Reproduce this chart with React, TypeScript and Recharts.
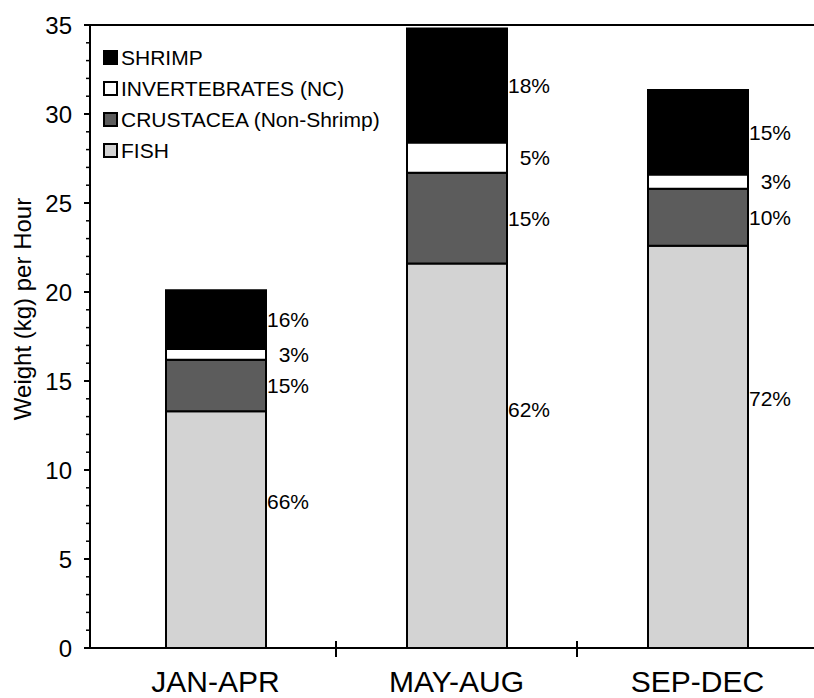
import React from "react";
import {
  BarChart,
  Bar,
  XAxis,
  YAxis,
  LabelList,
  ReferenceLine,
} from "recharts";

const periods = ["JAN-APR", "MAY-AUG", "SEP-DEC"];

// weight (kg) per hour
const fish = [13.3, 21.6, 22.6];
const crustacea = [2.9, 5.1, 3.2];
const invertebrates = [0.6, 1.7, 0.8];
const shrimp = [3.3, 6.4, 4.75];

// percentage labels printed beside each segment
const fishPct = ["66%", "62%", "72%"];
const crustaceaPct = ["15%", "15%", "10%"];
const invertebratesPct = ["3%", "5%", "3%"];
const shrimpPct = ["16%", "18%", "15%"];

// every unit gets a tick, every fifth one a label
const yTicks = Array.from({ length: 36 }, (_, i) => i);

const data = periods.map((p, i) => ({
  period: p,
  fish: fish[i],
  crustacea: crustacea[i],
  invertebrates: invertebrates[i],
  shrimp: shrimp[i],
  fishPct: fishPct[i],
  crustaceaPct: crustaceaPct[i],
  invertebratesPct: invertebratesPct[i],
  shrimpPct: shrimpPct[i],
}));

const series = [
  { key: "fish", name: "FISH", fill: "#d3d3d3" },
  { key: "crustacea", name: "CRUSTACEA (Non-Shrimp)", fill: "#5c5c5c" },
  { key: "invertebrates", name: "INVERTEBRATES (NC)", fill: "#ffffff" },
  { key: "shrimp", name: "SHRIMP", fill: "#000000" },
];

const FONT = "'Liberation Sans', Arial, Helvetica, sans-serif";

// label to the right of a segment; fish labels sit a bit above the middle
const makePctLabel = (rise: number) => (props: any) => {
  const { x, y, width, height, value } = props;
  const cy = Number(y) + Number(height) * (1 - rise);
  return (
    <text
      x={Number(x) + Number(width) + 43}
      y={cy}
      textAnchor="end"
      dominantBaseline="central"
      fontFamily={FONT}
      fontSize={21}
      fill="#000"
    >
      {value}
    </text>
  );
};

const SepTick = (props: any) => {
  const { x, y } = props;
  return <line x1={x} x2={x} y1={y - 7} y2={y + 9} stroke="#000" strokeWidth={2} />;
};

// y tick: tick line drawn here so minor/major lengths differ
const YTick = (props: any) => {
  const { x, y, payload } = props;
  const v = payload.value;
  const major = v % 5 === 0;
  const ax = x + 18;
  return (
    <g>
      <line
        x1={ax - (major ? 6 : 4)}
        x2={ax}
        y1={y}
        y2={y}
        stroke="#000"
        strokeWidth={major ? 2 : 1.5}
      />
      {major && (
        <text
          x={x}
          y={y}
          textAnchor="end"
          dominantBaseline="central"
          fontFamily={FONT}
          fontSize={24}
          fill="#000"
        >
          {v}
        </text>
      )}
    </g>
  );
};

const LegendBox = () => (
  <div
    style={{
      position: "absolute",
      left: 103,
      top: 42,
      fontFamily: FONT,
      fontSize: 21,
      color: "#000",
    }}
  >
    {[...series].reverse().map((s) => (
      <div
        key={s.key}
        style={{ display: "flex", alignItems: "center", height: 31, lineHeight: "31px" }}
      >
        <span
          style={{
            display: "inline-block",
            width: 11,
            height: 11,
            border: "2px solid #000",
            background: s.fill,
            marginRight: 3,
          }}
        />
        {s.name}
      </div>
    ))}
  </div>
);

const AxisTitle = () => (
  <text
    transform="translate(22,309) rotate(-90)"
    textAnchor="middle"
    dominantBaseline="central"
    fontFamily={FONT}
    fontSize={24}
    fill="#000"
  >
    Weight (kg) per Hour
  </text>
);

export default function App() {
  return (
    <div
      style={{
        position: "absolute",
        left: 0,
        top: 0,
        width: 814,
        height: 698,
        overflow: "hidden",
        background: "#fff",
      }}
    >
      <BarChart
        width={818}
        height={698}
        data={data}
        margin={{ top: 25, right: 0, bottom: 0, left: 0 }}
        barSize={100}
      >
        <XAxis
          xAxisId="cat"
          dataKey="period"
          height={49}
          interval={0}
          padding={{ left: 5, right: 0 }}
          axisLine={{ stroke: "#000", strokeWidth: 2 }}
          tickLine={false}
          tickSize={0}
          tickMargin={23}
          tick={{ fontFamily: FONT, fontSize: 30, fill: "#000" }}
        />
        <XAxis
          xAxisId="sep"
          type="number"
          dataKey={() => 0}
          domain={[0, 3]}
          ticks={[1, 2]}
          padding={{ left: 5, right: 0 }}
          height={1}
          axisLine={false}
          tickLine={false}
          tickSize={0}
          tickMargin={0}
          tick={(p: any) => <SepTick {...p} y={p.y - 49} />}
          interval={0}
          allowDataOverflow
        />
        <YAxis
          yAxisId="main"
          domain={[0, 35]}
          ticks={yTicks}
          interval={0}
          width={90}
          axisLine={{ stroke: "#000", strokeWidth: 2 }}
          tickLine={false}
          tickSize={6}
          tickMargin={12}
          tick={<YTick />}
          label={{ content: () => <AxisTitle /> }}
        />
        <ReferenceLine yAxisId="main" xAxisId="cat" y={35} stroke="#000" strokeWidth={2} />
        {series.map((s) => (
          <Bar
            key={s.key}
            dataKey={s.key}
            name={s.name}
            stackId="a"
            xAxisId="cat"
            yAxisId="main"
            fill={s.fill}
            stroke="#000"
            strokeWidth={2}
            isAnimationActive={false}
          >
            <LabelList
              dataKey={`${s.key}Pct`}
              content={makePctLabel(s.key === "fish" ? 0.62 : 0.5)}
            />
          </Bar>
        ))}
      </BarChart>
      <LegendBox />
    </div>
  );
}
